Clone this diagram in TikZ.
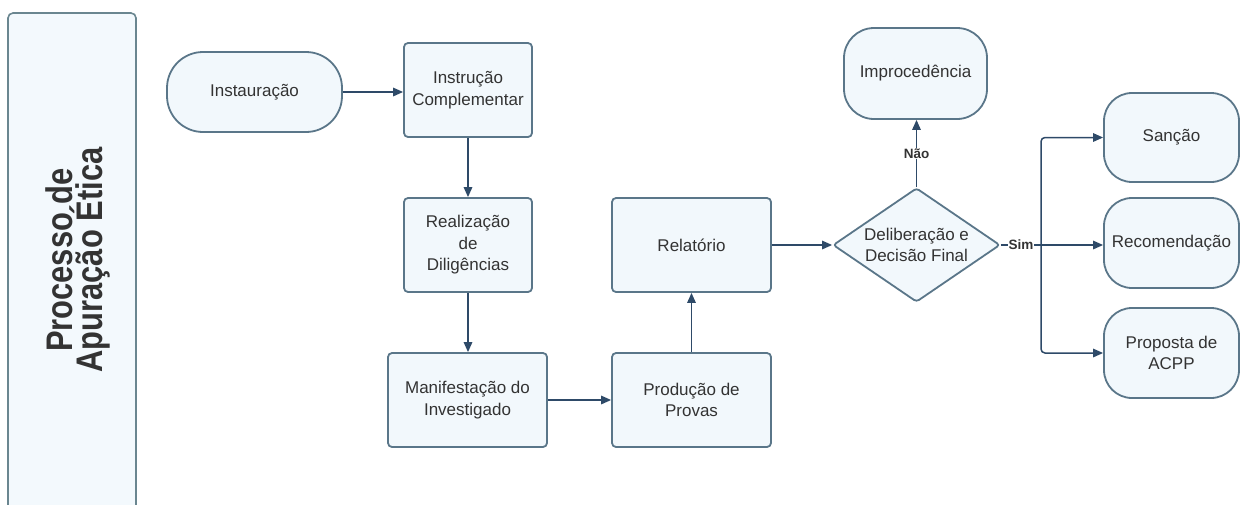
\documentclass[tikz,border=0pt]{standalone}
\usepackage{fontspec}
\setmainfont{Liberation Sans}
\usetikzlibrary{shapes.geometric,arrows.meta}
\definecolor{fillc}{HTML}{F2F8FC}
\definecolor{edge}{HTML}{5A7689}
\definecolor{arr}{HTML}{2E4A68}
\definecolor{lanefill}{HTML}{F3F9FD}
\definecolor{laneedge}{HTML}{6A8690}
\definecolor{txt}{HTML}{333333}
\begin{document}
\begin{tikzpicture}[x=1pt,y=-1pt,
  base/.style={draw=edge, fill=fillc, line width=1.8pt, text=txt, align=center,
    inner sep=0pt, font=\fontsize{17}{21.5}\selectfont},
  procbox/.style={base, rectangle, rounded corners=4pt},
  term/.style={base, rectangle, rounded corners=#1},
  decis/.style={base, diamond, rounded corners=3pt, minimum width=167pt, minimum height=114pt, aspect=1.465},
  conn/.style={draw=arr, line width=1.5pt},
  arrow/.style={conn, -{Triangle[length=10pt,width=8.5pt]}},
  lbl/.style={fill=white, text=txt, inner sep=1pt, font=\bfseries\fontsize{13.5}{15}\selectfont},
  titletext/.style={rotate=90, anchor=base, inner sep=0pt, text=txt, font=\bfseries\fontsize{37}{30}\selectfont},
  lane/.style={draw=laneedge, fill=lanefill, line width=1.6pt, rounded corners=5pt}]
\useasboundingbox (0,0) rectangle (1240,504);
\begin{scope}
\clip (0,0) rectangle (1240,504);
\draw[lane] (8,13) rectangle (136,540);
\end{scope}
\node[titletext] (title1) at (72,260) {\scalebox{0.835}[1]{Processo de}};
\node[titletext] (title2) at (102,260) {\scalebox{0.835}[1]{Apuração Ética}};

\node[term=36pt, minimum width=175pt, minimum height=80pt] (inst) at (254.5,92) {Instauração};
\node[procbox, minimum width=128pt, minimum height=94pt] (instr) at (468,90) {Instrução\\Complementar};
\node[procbox, minimum width=128pt, minimum height=94pt] (real) at (468,245) {Realização\\de\\Diligências};
\node[procbox, minimum width=159pt, minimum height=94pt] (man) at (467.5,400) {Manifestação do\\Investigado};
\node[procbox, minimum width=159pt, minimum height=94pt] (prod) at (691.5,400) {Produção de\\Provas};
\node[procbox, minimum width=159pt, minimum height=94pt] (rel) at (691.5,245) {Relatório};
\node[decis] (dia) at (916.5,245) {Deliberação e\\Decisão Final};
\node[term=30pt, minimum width=143pt, minimum height=91pt] (imp) at (915.5,73.5) {Improcedência};
\node[term=28pt, minimum width=135pt, minimum height=89pt] (san) at (1171.5,137.5) {Sanção};
\node[term=28pt, minimum width=135pt, minimum height=90pt] (rec) at (1171.5,243) {Recomendação};
\node[term=28pt, minimum width=135pt, minimum height=90pt] (acpp) at (1171.5,353) {Proposta de\\ACPP};

\coordinate (jn) at (1041,245);

\draw[arrow] (inst.east) -- (inst.east -| instr.west);
\draw[arrow] (instr.south) -- (instr.south |- real.north);
\draw[arrow] (real.south) -- (real.south |- man.north);
\draw[arrow] (man.east) -- (prod.west);
\draw[arrow] (prod.north) -- (rel.south);
\draw[arrow] (rel.east) -- (dia.west);
\draw[arrow] (dia.north) -- node[lbl, pos=0.5]{Não} (dia.north |- imp.south);
\draw[conn] (dia.east) -- node[lbl, pos=0.5]{Sim} (jn);
\draw[arrow] (jn) -- (jn -| rec.west);
\draw[arrow, rounded corners=4pt] (jn) |- (san.west);
\draw[arrow, rounded corners=4pt] (jn) |- (acpp.west);
\end{tikzpicture}
\end{document}
